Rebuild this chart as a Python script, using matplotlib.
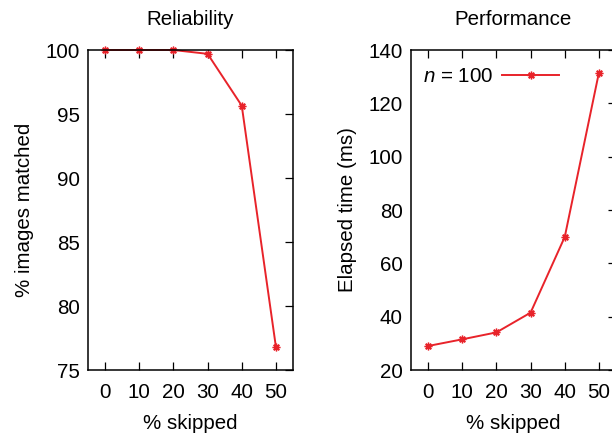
import numpy as np
import matplotlib
matplotlib.use("Agg")
import matplotlib.pyplot as plt

# data
skipped = [0, 10, 20, 30, 40, 50]
matched = [100.0, 100.0, 100.0, 99.7, 95.65, 76.8]
elapsed = [29.0, 31.5, 34.1, 41.5, 69.9, 131.5]

plt.rcParams['font.family'] = ['Liberation Sans', 'DejaVu Sans']
plt.rcParams['mathtext.fontset'] = 'custom'
plt.rcParams['mathtext.it'] = 'Liberation Sans:italic'
plt.rcParams['mathtext.rm'] = 'Liberation Sans'

RED = '#e8232a'
FS = 14.8
asterisk = (8, 2, 0)

fig = plt.figure(figsize=(6.12, 4.38), dpi=100)
ax1 = fig.add_axes([88 / 612, 1 - 370 / 438, 205 / 612, 320 / 438])
ax2 = fig.add_axes([411 / 612, 1 - 370 / 438, 205 / 612, 320 / 438])


def style(ax, ylim, yticks):
    ax.set_xlim(-5, 55)
    ax.set_ylim(*ylim)
    ax.set_xticks(skipped)
    ax.set_yticks(yticks)
    ax.tick_params(axis='x', direction='in', top=True, length=6, width=0.9,
                   pad=9, labelsize=FS)
    ax.tick_params(axis='y', direction='in', left=False, right=True, length=6,
                   width=0.9, pad=6, labelsize=FS)
    for s in ax.spines.values():
        s.set_linewidth(1.1)
    ax.set_xlabel('% skipped', fontsize=FS, labelpad=9)


ax1.plot(skipped, matched, color=RED, lw=1.4, marker=asterisk, ms=5.5,
         mew=1.0, clip_on=False)
style(ax1, (75, 100), [75, 80, 85, 90, 95, 100])
ax1.set_ylabel('% images matched', fontsize=FS, labelpad=8)
ax1.set_title('Reliability', fontsize=FS, pad=18)

ax2.plot(skipped, elapsed, color=RED, lw=1.4, marker=asterisk, ms=5.5,
         mew=1.0, clip_on=False, label='$n$ = 100')
style(ax2, (20, 140), [20, 40, 60, 80, 100, 120, 140])
ax2.set_ylabel('Elapsed time (ms)', fontsize=FS, labelpad=8)
ax2.set_title('Performance', fontsize=FS, pad=18)
ax2.legend(loc='upper left', frameon=False, markerfirst=False, fontsize=FS,
           handlelength=2.8, handletextpad=0.4, borderaxespad=0.2,
           bbox_to_anchor=(0.0, 0.985))

fig.savefig('out.png', dpi=100)
